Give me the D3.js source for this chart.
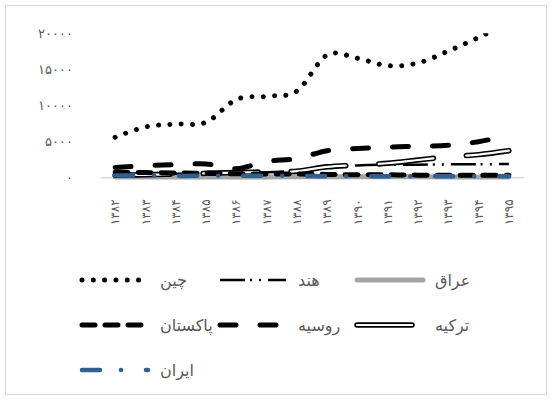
<!DOCTYPE html>
<html>
<head>
<meta charset="utf-8">
<script src="https://cdn.jsdelivr.net/npm/d3@7"></script>
<style>
  body { margin: 0; background: #fff; }
  svg text { font-family: "DejaVu Sans", sans-serif; fill: #595959; }
</style>
</head>
<body>
<svg id="chart" width="552" height="400"></svg>
<script>
// data
var years = ['۱۳۸۲', '۱۳۸۳', '۱۳۸۴', '۱۳۸۵', '۱۳۸۶', '۱۳۸۷', '۱۳۸۸',
             '۱۳۸۹', '۱۳۹۰', '۱۳۹۱', '۱۳۹۲', '۱۳۹۳', '۱۳۹۴', '۱۳۹۵'];
var yTicks = [0, 5000, 10000, 15000, 20000];

var iraq     = [30, 30, 40, 40, 50, 50, 60, 60, 70, 70, 60, 50, 50, 40];
var india    = [400, 450, 500, 550, 600, 700, 900, 1300, 1650, 1750, 1750, 1800, 1800, 1850];
var china    = [5560, 6990, 7400, 7640, 10800, 11250, 11990, 16990, 16530, 15500, 15880, 17540, 19420, 21500];
var turkey   = [300, 350, 450, 550, 650, 750, 850, 1450, 1700, 1950, 2400, 2850, 3150, 3700];
var russia   = [1350, 1600, 1750, 1850, 1200, 2200, 2600, 3700, 4000, 4200, 4300, 4450, 4950, 5800];
var pakistan = [700, 650, 600, 550, 500, 450, 450, 400, 350, 350, 300, 300, 300, 300];
var iran     = [250, 250, 200, 200, 200, 200, 200, 150, 150, 150, 150, 150, 150, 150];

var names = ['عراق', 'هند', 'چین', 'ترکیه', 'روسیه', 'پاکستان', 'ایران'];
var values = [iraq, india, china, turkey, russia, pakistan, iran];

// line looks, same order as names
var looks = [
    {color: '#a5a5a5', width: 5, dash: null, cap: 'round'},
    {color: '#000', width: 2.5, dash: '25,5,2,7,2,7', cap: 'butt'},
    {color: '#000', width: 5, dash: '0.01,11.3', cap: 'round'},
    {color: '#000', width: 5.5, dash: '55,33', cap: 'round', inner: 2.2},
    {color: '#000', width: 5, dash: '16,24', cap: 'round'},
    {color: '#000', width: 5, dash: '13,10', cap: 'round'},
    {color: '#2f6092', width: 4.5, dash: '18,21,0.01,25', cap: 'round'}
];

// legend slots: [column x of sample, row y]
var legendX = [357, 220, 82, 357, 220, 82, 82];
var legendY = [280, 280, 280, 325, 325, 325, 370];

function toFa(s) {
    return String(s).replace(/\d/g, function(d) { return '۰۱۲۳۴۵۶۷۸۹'[d]; });
}

var svg = d3.select('#chart');

// outer frame
svg.append('rect')
    .attr('x', 5.5).attr('y', 5.5)
    .attr('width', 541).attr('height', 389)
    .attr('fill', '#fff')
    .attr('stroke', '#d9d9d9');

var x = d3.scaleBand().domain(years).range([100, 524]);
var y = d3.scaleLinear().domain([0, 20000]).range([177.3, 33.3]);

// y axis labels only
var yAxis = svg.append('g')
    .attr('transform', 'translate(100,0)')
    .call(d3.axisLeft(y).tickValues(yTicks).tickSize(0).tickPadding(27).tickFormat(toFa));
yAxis.select('.domain').remove();
yAxis.selectAll('text')
    .style('font-family', '"DejaVu Sans", sans-serif')
    .style('font-size', '13px')
    .style('letter-spacing', '3.2px')
    .attr('fill', '#595959');

// x axis
var xAxis = svg.append('g')
    .attr('transform', 'translate(0,' + y(0) + ')')
    .call(d3.axisBottom(x).tickSize(0).tickSizeOuter(0));
xAxis.select('.domain').attr('stroke', '#d9d9d9').attr('stroke-width', 1.5);
xAxis.selectAll('text')
    .attr('transform', 'rotate(-90)')
    .attr('x', -22)
    .attr('y', 0)
    .attr('dy', '0.35em')
    .style('text-anchor', 'end')
    .style('font-family', '"DejaVu Sans", sans-serif')
    .style('font-size', '12px')
    .style('letter-spacing', '1.5px')
    .attr('fill', '#595959');

// clip the top of the plot area (china runs off the top)
svg.append('defs').append('clipPath').attr('id', 'plotclip')
    .append('rect').attr('x', 0).attr('y', 33.3).attr('width', 552).attr('height', 360);

var line = d3.line()
    .x(function(d, i) { return x(years[i]) + x.bandwidth() / 2; })
    .y(function(d) { return y(d); })
    .curve(d3.curveCardinal);

function stroke(sel, lk, w, col) {
    sel.attr('fill', 'none')
        .attr('stroke', col)
        .attr('stroke-width', w)
        .attr('stroke-linecap', lk.cap)
        .attr('stroke-linejoin', 'round')
        .attr('stroke-dasharray', lk.dash);
}

var plot = svg.append('g').attr('clip-path', 'url(#plotclip)');
values.forEach(function(v, k) {
    var lk = looks[k];
    stroke(plot.append('path').attr('d', line(v)), lk, lk.width, lk.color);
    if (lk.inner) {
        stroke(plot.append('path').attr('d', line(v)), lk, lk.inner, '#fff');
    }
});

// legend
var leg = svg.append('g');
names.forEach(function(n, k) {
    var lk = looks[k];
    var sx = legendX[k], sy = legendY[k];
    stroke(leg.append('line').attr('x1', sx).attr('x2', sx + 66).attr('y1', sy).attr('y2', sy), lk, lk.width, lk.color);
    if (lk.inner) {
        stroke(leg.append('line').attr('x1', sx).attr('x2', sx + 62).attr('y1', sy).attr('y2', sy), lk, lk.inner, '#fff');
    }
    leg.append('text')
        .attr('x', sx + 78)
        .attr('y', sy)
        .attr('dy', '0.35em')
        .style('font-size', '16px')
        .style('text-anchor', 'start')
        .style('direction', 'ltr')
        .text(n);
});
</script>
</body>
</html>
